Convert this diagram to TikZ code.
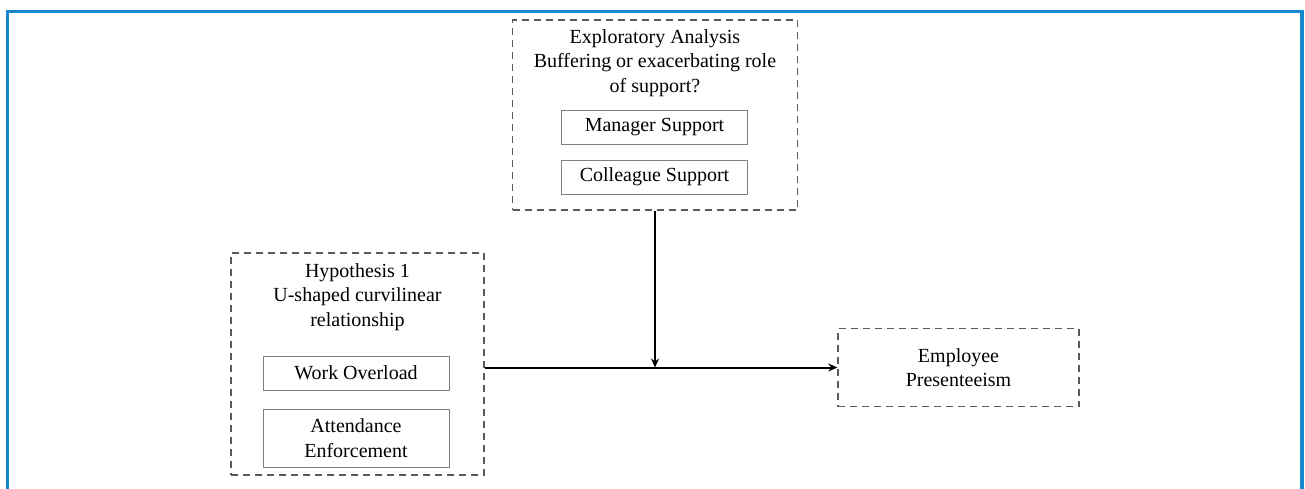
\documentclass[tikz,border=0pt]{standalone}
\usepackage{fontspec}
\setmainfont{Liberation Serif}
\usetikzlibrary{arrows.meta}
\definecolor{frameblue}{HTML}{1589CE}
\definecolor{dashgray}{HTML}{5A5A5A}
\definecolor{boxgray}{HTML}{808080}

\begin{document}
\begin{tikzpicture}[x=1pt,y=-1pt,
  every node/.style={inner sep=0pt,align=center,font=\fontsize{20}{24.5}\selectfont},
  group/.style={draw=dashgray,line width=1.4pt,dash pattern=on 7pt off 5pt},
  item/.style={draw=boxgray,line width=0.9pt,minimum width=186pt},
  link/.style={line width=2pt,-{Stealth[length=9pt,width=8pt]}}]
\useasboundingbox (0,0) rectangle (1305,488);
\draw [frameblue,line width=3.2pt] (7.5,500) -- (7.5,11.5) -- (1302,11.5) -- (1302,500);
\node [group,minimum width=285pt,minimum height=190pt] (explore) at (655,115) {};
\node (exploretitle) at (655,63) {Exploratory Analysis\\Buffering or exacerbating role\\of support?};
\node [item,minimum height=34pt] (manager) at (654.5,127) {Manager Support};
\node [item,minimum height=34pt] (colleague) at (654.5,177) {Colleague Support};
\node [group,minimum width=253pt,minimum height=222pt] (hyp) at (357.5,364) {};
\node (hyptitle) at (357.5,297) {Hypothesis 1\\U-shaped curvilinear\\relationship};
\node [item,minimum height=34pt] (overload) at (356,373) {Work Overload};
\node [item,minimum height=58pt] (enforce) at (356,438) {Attendance\\Enforcement};
\node [group,minimum width=241pt,minimum height=78pt] (emp) at (958.5,367.5) {Employee\\Presenteeism};
\draw [link] (hyp.east |- emp.west) -- (emp.west);
\draw [link] (explore.south) -- (explore.south |- emp.west);
\end{tikzpicture}
\end{document}
